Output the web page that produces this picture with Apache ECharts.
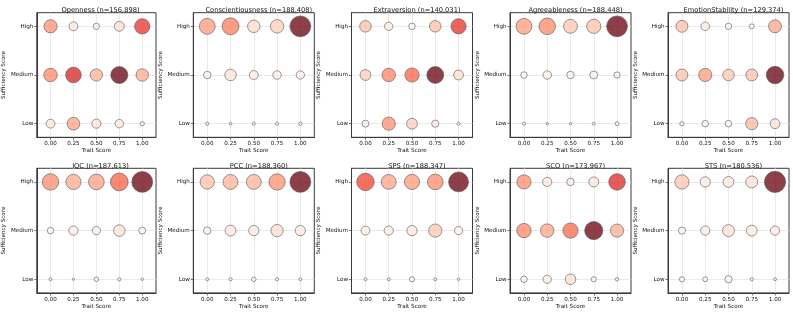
<!DOCTYPE html>
<html><head><meta charset="utf-8">
<script src="https://cdn.jsdelivr.net/npm/echarts@6/dist/echarts.min.js"></script>
<style>html,body{margin:0;padding:0;background:#fff}#c{width:793px;height:315px}</style>
</head><body><div id="c"></div>
<script>
// ---- data ----
const traitScores = [0, 0.25, 0.5, 0.75, 1.0];
const sufficiencyLevels = ['Low', 'Medium', 'High'];
const panelNames = ['Openness', 'Conscientiousness', 'Extraversion', 'Agreeableness', 'EmotionStability',
                    'IQC', 'PCC', 'SPS', 'SCO', 'STS'];
const sampleSizes = [156898, 188408, 140031, 188448, 129374, 187613, 188360, 188347, 173967, 180536];
// share of respondents (%) per cell; rows: Low, Medium, High; columns: trait score 0.00..1.00
const openness          = [[4.7, 9.1, 5.0, 4.3, 1.3], [10.2, 13.5, 8.5, 16.0, 8.8], [9.8, 4.7, 2.5, 5.7, 13.0]];
const conscientiousness = [[0.8, 0.6, 0.7, 0.8, 0.9], [3.4, 7.6, 4.7, 4.3, 4.1], [13.9, 15.7, 8.8, 10.2, 23.5]];
const extraversion      = [[3.0, 9.8, 6.8, 3.2, 0.8], [6.8, 10.2, 11.3, 15.7, 5.7], [7.6, 4.1, 2.7, 7.6, 12.8]];
const agreeableness     = [[0.8, 0.5, 0.5, 0.7, 1.1], [2.7, 4.3, 3.4, 3.8, 2.5], [13.9, 15.0, 10.8, 11.3, 23.5]];
const emotionStability  = [[1.3, 2.7, 2.7, 8.5, 5.7], [8.1, 9.8, 7.6, 8.1, 16.7], [8.1, 4.3, 2.5, 1.6, 9.4]];
const iqc               = [[0.7, 0.45, 1.4, 0.8, 0.55], [2.7, 5.0, 4.1, 7.6, 3.0], [14.8, 12.8, 13.6, 17.1, 23.5]];
const pcc               = [[0.7, 0.8, 1.4, 0.8, 0.7], [3.4, 6.8, 6.1, 8.5, 6.1], [11.3, 12.3, 12.3, 14.5, 23.5]];
const sps               = [[0.7, 0.7, 1.8, 0.7, 0.55], [4.7, 5.0, 6.1, 9.8, 4.1], [16.7, 12.3, 12.8, 13.5, 21.4]];
const sco               = [[2.7, 4.1, 6.4, 1.8, 0.9], [11.6, 10.2, 12.8, 18.0, 9.8], [11.3, 5.0, 3.4, 5.7, 15.0]];
const sts               = [[1.8, 1.6, 3.2, 0.8, 0.7], [3.2, 5.0, 8.1, 6.8, 5.0], [11.3, 6.1, 6.8, 8.1, 24.2]];
const panelValues = [openness, conscientiousness, extraversion, agreeableness, emotionStability,
                     iqc, pcc, sps, sco, sts];

// ---- styling helpers ----
const REDS = [[255,245,240],[254,224,210],[252,187,161],[252,146,114],[251,106,74],
              [239,59,44],[203,24,29],[165,15,21],[103,0,13]];
function reds(t) {
  t = Math.max(0, Math.min(1, t));
  const p = t * (REDS.length - 1), i = Math.min(REDS.length - 2, Math.floor(p)), f = p - i;
  const c = REDS[i].map((a, k) => Math.round(a + (REDS[i + 1][k] - a) * f));
  return 'rgb(' + c.join(',') + ')';
}
const FONT = 'DejaVu Sans';
const lefts = [35, 193.3, 351.5, 510, 668];
const tops = [12.7, 168.3];
const W = 121, H = 124.6;

const grid = [], xAxis = [], yAxis = [], series = [], title = [];
panelValues.forEach((vals, i) => {
  const col = i % 5, row = Math.floor(i / 5);
  const L = lefts[col], T = tops[row];
  grid.push({ left: L, top: T, width: W, height: H, show: true, borderColor: '#3a3a3a', borderWidth: 1,
              backgroundColor: 'transparent', containLabel: false });
  title.push({ text: panelNames[i] + ' (n=' + sampleSizes[i].toLocaleString('en-US') + ')',
               left: L + W / 2, top: T - 11, textAlign: 'center',
               textStyle: { fontFamily: FONT, fontSize: 6.7, fontWeight: 'normal', color: '#111' } });
  xAxis.push({ gridIndex: i, type: 'value', min: -0.15, max: 1.15,
    name: 'Trait Score', nameLocation: 'middle', nameGap: 10.5,
    nameTextStyle: { fontFamily: FONT, fontSize: 5.6, color: '#111' },
    axisLine: { show: true, onZero: false, lineStyle: { color: '#3a3a3a', width: 1 } },
    axisTick: { show: true, length: 2.5, customValues: traitScores, lineStyle: { color: '#3a3a3a', width: 0.7 } },
    axisLabel: { customValues: traitScores, margin: 3.5, fontFamily: FONT, fontSize: 5.6, color: '#111',
                 formatter: v => Number(v).toFixed(2) },
    splitLine: { show: true, lineStyle: { color: '#e4e4e4', width: 0.8 } } });
  yAxis.push({ gridIndex: i, type: 'value', min: -0.28, max: 2.28,
    name: 'Sufficiency Score', nameLocation: 'middle', nameGap: 27, nameRotate: 90,
    nameTextStyle: { fontFamily: FONT, fontSize: 5.6, color: '#111' },
    axisLine: { show: true, onZero: false, lineStyle: { color: '#3a3a3a', width: 1 } },
    axisTick: { show: true, length: 2.5, customValues: [0, 1, 2], lineStyle: { color: '#3a3a3a', width: 0.7 } },
    axisLabel: { customValues: [0, 1, 2], margin: 3.5, fontFamily: FONT, fontSize: 5.6, color: '#111',
                 formatter: v => sufficiencyLevels[Math.round(v)] },
    splitLine: { show: true, lineStyle: { color: '#e4e4e4', width: 0.8 } } });
  const maxV = Math.max(...vals.flat());
  const data = [];
  vals.forEach((rowVals, r) => rowVals.forEach((v, c) => {
    data.push({ value: [traitScores[c], r, v],
                itemStyle: { color: reds(Math.pow(v / maxV, 2)) } });
  }));
  series.push({ type: 'scatter', xAxisIndex: i, yAxisIndex: i, data,
    symbolSize: val => Math.max(1, Math.sqrt(val[2] * 20) - 0.8),
    itemStyle: { opacity: 0.75, borderColor: '#555', borderWidth: 0.8 },
    emphasis: { disabled: true }, z: 3 });
});

const chart = echarts.init(document.getElementById('c'), null, { renderer: 'canvas' });
chart.setOption({ animation: false, backgroundColor: '#fff', title, grid, xAxis, yAxis, series });
</script></body></html>
